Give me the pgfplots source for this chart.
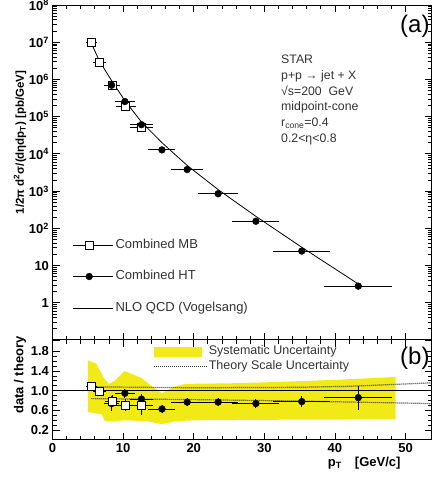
\documentclass[border=0pt]{standalone}
\usepackage{fontspec}
\setmainfont{Liberation Sans}
\usepackage{pgfplots}
\usepackage{pgfplotstable}
\pgfplotsset{compat=1.18}
\definecolor{band}{RGB}{242,234,22}
\definecolor{txt}{gray}{0.2}

\pgfplotstableread{
x y ex
5.55 1.0e7 0.5
6.7 2.95e6 0.6
8.5 6.8e5 0.8
10.35 1.9e5 1.1
12.6 5.3e4 1.3
}\mbtop
\pgfplotstableread{
x y ex
8.37 7.0e5 0.8
10.25 2.55e5 1.1
12.6 6.1e4 1.3
15.5 1.28e4 1.6
19.07 3.8e3 1.95
23.45 8.5e2 2.5
28.8 1.55e2 3.0
35.3 24.5 3.7
43.3 2.8 4.5
}\httop
\pgfplotstableread{
x y
5.5 9.3e6
6.7 3.0e6
8.4 9.1e5
10.3 2.6e5
12.6 7.2e4
15.5 2.0e4
19.07 4.9e3
23.45 1.1e3
28.8 2.1e2
35.3 31
43.3 3.2
}\nlo
\pgfplotstableread{
x y ex ey
8.37 0.74 0.8 0.11
10.25 0.95 1.1 0.05
12.6 0.83 1.3 0.06
15.5 0.63 1.6 0.04
19.07 0.77 1.95 0.04
23.45 0.77 2.5 0.04
28.8 0.74 3.0 0.05
35.3 0.78 3.7 0.07
43.3 0.86 4.5 0.20
}\htrat
\pgfplotstableread{
x y ex ey
5.55 1.08 0.5 0.05
6.7 0.99 0.6 0.05
8.5 0.79 0.8 0.08
10.35 0.71 1.1 0.08
12.6 0.71 1.3 0.15
}\mbrat

\begin{document}
\begin{tikzpicture}[x=1pt,y=1pt]
\useasboundingbox (0,0) rectangle (435,478);
\pgfplotsset{
  every axis/.append style={
    scale only axis, width=379.2pt, anchor=south west,
    xmin=0, xmax=53.7,
    axis line style={line width=1pt},
    tick style={line width=0.8pt, black},
    major tick length=7pt, minor tick length=4pt,
    tick label style={font=\bfseries\fontsize{13}{13}\selectfont},
    /pgf/number format/assume math mode=true,
    xtick={0,10,20,30,40,50}, minor x tick num=4,
  },
  legmb/.style={legend image code/.code={\path (0pt,0pt) -- (40pt,0pt); \draw[black, line width=0.8pt] (0pt,0pt) -- (32pt,0pt); \draw[black, line width=0.8pt, mark=square*, mark options={fill=white}, mark size=4pt] plot coordinates {(16pt,0pt)};}},
  leght/.style={legend image code/.code={\path (0pt,0pt) -- (40pt,0pt); \draw[black, line width=0.8pt] (0pt,0pt) -- (32pt,0pt); \draw[black, mark=*, mark size=3.4pt] plot coordinates {(16pt,0pt)};}},
  legnlo/.style={legend image code/.code={\path (0pt,0pt) -- (40pt,0pt); \draw[black, line width=0.8pt] (0pt,0pt) -- (32pt,0pt);}},
  legband/.style={legend image code/.code={\path (0pt,0pt) -- (53pt,0pt); \fill[band] (0pt,-5pt) rectangle (48pt,5pt);}},
  legdot/.style={legend image code/.code={\path (0pt,0pt) -- (53pt,0pt); \draw[black!80, line width=1.2pt, dash pattern=on 1pt off 1pt] (0pt,0pt) -- (48pt,0pt);}},
}
% ---------- top panel ----------
\begin{axis}[
  at={(52.5pt,138pt)}, height=335pt,
  ymode=log, log basis y=10, ymin=0.1, ymax=1e8,
  xticklabels={},
  yticklabel={\pgfmathtruncatemacro{\e}{round(\tick)}\ifnum\e<0\relax\else\ifnum\e=0 1\else\ifnum\e=1 10\else 10\textsuperscript{\e}\fi\fi\fi},
  every axis y label/.style={at={(axis description cs:-0.0857,0.59)}, rotate=90, anchor=center},
  ylabel={\bfseries\fontsize{11.5}{12}\selectfont 1/2π d\textsuperscript{2}σ/(dηdp\textsubscript{T}) [pb/GeV]},
  legend style={at={(axis description cs:0.053,0.308)}, anchor=north west, draw=none, fill=none,
    inner sep=0pt, row sep=15.5pt, font=\fontsize{13}{13}\selectfont, text=txt,
    nodes={inner sep=2pt, text height=9pt, text depth=3pt}},
  legend cell align=left,
]
\addplot[only marks, mark=square*, mark options={fill=white, draw=black, line width=0.8pt}, mark size=4pt, legmb,
  error bars/.cd, x dir=both, x explicit,
    error bar style={line width=0.8pt, black},
    error mark options={mark size=2.2pt, line width=0.8pt, black}]
  table[x=x, y=y, x error=ex] {\mbtop};
\addlegendentry{Combined MB}
\addplot[only marks, mark=*, mark options={fill=black, draw=black}, mark size=3.4pt, leght,
  error bars/.cd, x dir=both, x explicit,
    error bar style={line width=0.8pt, black},
    error mark options={mark size=2.2pt, line width=0.8pt, black}]
  table[x=x, y=y, x error=ex] {\httop};
\addlegendentry{Combined HT}
\addplot[black, line width=0.8pt, mark=none, legnlo]
  table[x=x, y=y] {\nlo};
\addlegendentry{NLO QCD (Vogelsang)}
\end{axis}
% ---------- bottom panel ----------
\begin{axis}[
  at={(52.5pt,38pt)}, height=100pt,
  ymin=0, ymax=2.03,
  ytick={0.2,0.6,1.0,1.4,1.8}, minor y tick num=3,
  yticklabel style={/pgf/number format/.cd, fixed, fixed zerofill, precision=1},
  axis on top,
  every axis y label/.style={at={(axis description cs:-0.0857,0.65)}, rotate=90, anchor=center},
  ylabel={\bfseries\fontsize{13}{13}\selectfont data / theory},
  every axis x label/.style={at={(axis description cs:0.822,-0.235)}, anchor=center},
  xlabel={\bfseries\fontsize{13}{13}\selectfont p\textsubscript{T}\quad [GeV/c]},
  legend style={at={(axis description cs:0.266,0.955)}, anchor=north west, draw=none, fill=none,
    inner sep=0pt, row sep=1pt, font=\fontsize{12.5}{12.5}\selectfont, text=txt,
    nodes={inner sep=1pt, text height=9pt, text depth=3pt}},
  legend cell align=left,
]
\addplot[fill=band, draw=none, legband]
  coordinates {(5.0,1.62)(6.2,1.55)(7.3,1.25)(8.0,1.14)(8.8,1.2)(10.2,1.40)(12.6,1.26)(14.0,1.1)(15.5,0.95)(17.5,1.1)(19,1.14)(25,1.15)(30,1.17)(40,1.22)(48.6,1.28)
   (48.6,0.42)(30,0.41)(20,0.40)(17.5,0.38)(15.5,0.32)(13.5,0.38)(10.3,0.40)(8.5,0.38)(7.4,0.38)(7.0,0.52)(5.0,0.57)} -- cycle;
\addlegendentry{Systematic Uncertainty}
\addplot[black!80, line width=1.2pt, dash pattern=on 1pt off 1pt, legdot]
  coordinates {(5.5,1.08)(20,1.06)(35,1.07)(42,1.09)(53.7,1.16)};
\addlegendentry{Theory Scale Uncertainty}
\addplot[black!80, line width=1.2pt, dash pattern=on 1pt off 1pt, forget plot]
  coordinates {(5.5,0.84)(20,0.82)(35,0.79)(53.7,0.74)};
\addplot[black, line width=0.8pt, forget plot] coordinates {(0,1)(53.7,1)};
\addplot[only marks, mark=*, mark options={fill=black, draw=black}, mark size=3.4pt, forget plot,
  error bars/.cd, x dir=both, x explicit, y dir=both, y explicit,
  error bar style={line width=0.8pt, black}, error mark options={mark size=2.2pt, line width=0.8pt, black}]
  table[x=x, y=y, x error=ex, y error=ey] {\htrat};
\addplot[only marks, mark=square*, mark options={fill=white, draw=black, line width=0.8pt}, mark size=4pt, forget plot,
  error bars/.cd, x dir=both, x explicit, y dir=both, y explicit,
  error bar style={line width=0.8pt, black}, error mark options={mark size=2.2pt, line width=0.8pt, black}]
  table[x=x, y=y, x error=ex, y error=ey] {\mbrat};
\end{axis}
% ---------- annotations ----------
\begin{scope}[every node/.style={anchor=base west, inner sep=0pt, text=txt, font=\fontsize{12.3}{12.3}\selectfont}]
\node at (281,414.7) {STAR};
\node at (281,398.8) {p+p → jet + X};
\node at (281,382.9) {√s=200 \ GeV};
\node at (281,367.0) {midpoint-cone};
\node at (281,351.1) {r\textsubscript{cone}=0.4};
\node at (281,335.3) {0.2<η<0.8};
\end{scope}
\node[anchor=base west, inner sep=0pt, font=\fontsize{24}{24}\selectfont] at (400,445) {(a)};
\node[anchor=base west, inner sep=0pt, font=\fontsize{24}{24}\selectfont] at (400,113) {(b)};
\end{tikzpicture}
\end{document}
